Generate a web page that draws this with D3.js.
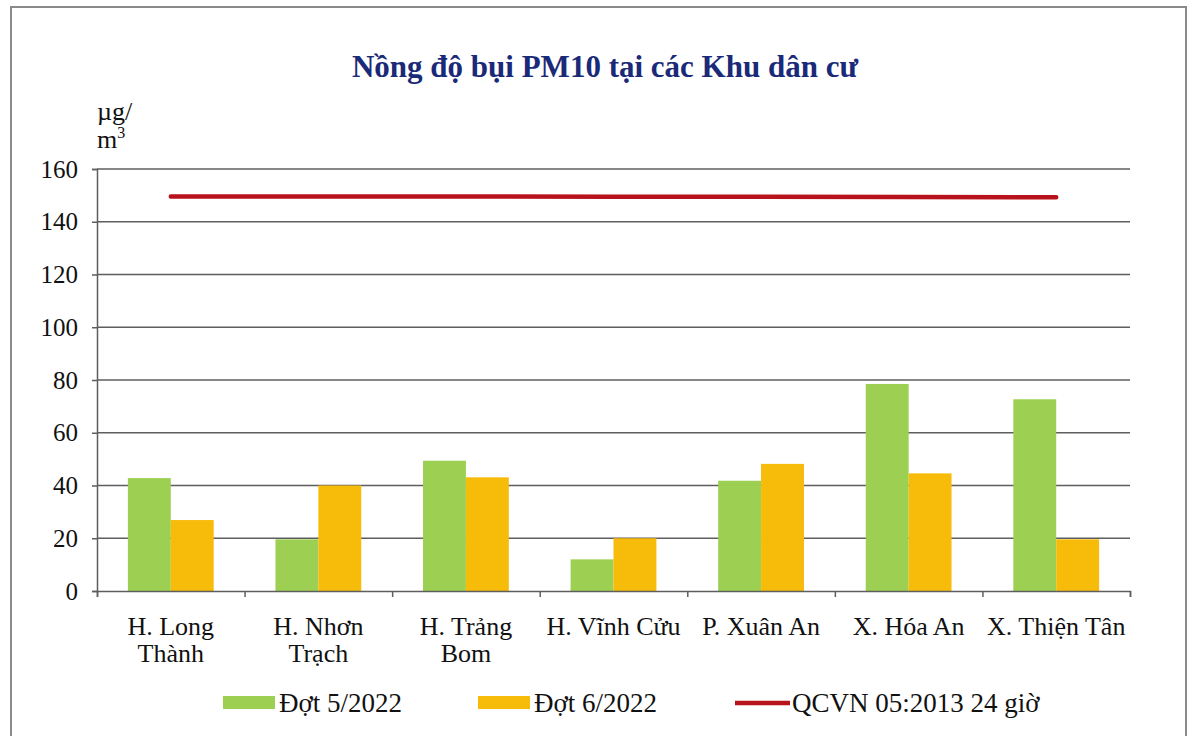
<!DOCTYPE html>
<html>
<head>
<meta charset="utf-8">
<script src="https://cdn.jsdelivr.net/npm/d3@7"></script>
<style>
    body { margin: 0; background: #fff; }
    svg { display: block; font-family: "Liberation Serif", "Times New Roman", serif; }
</style>
</head>
<body>
<div id="plot"></div>
<script>
// Data.
var categories = [
    ["H. Long", "Thành"],
    ["H. Nhơn", "Trạch"],
    ["H. Trảng", "Bom"],
    ["H. Vĩnh Cửu"],
    ["P. Xuân An"],
    ["X. Hóa An"],
    ["X. Thiện Tân"]
];
var dot5 = [42.8, 19.6, 49.4, 12, 41.8, 78.5, 72.7];
var dot6 = [26.9, 40, 43.1, 20, 48.2, 44.6, 19.6];
var qcvn = [149.6, 149.6, 149.6, 149.5, 149.5, 149.4, 149.3];
var series_names = ["Đợt 5/2022", "Đợt 6/2022", "QCVN 05:2013 24 giờ"];
var y_ticks = [0, 20, 40, 60, 80, 100, 120, 140, 160];

var W = 1192, H = 736;
var plot_left = 97, plot_right = 1130, plot_top = 169, plot_bottom = 591;

var svg = d3.select("div#plot")
    .append("svg")
        .attr("width", W)
        .attr("height", H)
        .attr("viewBox", "0 0 " + W + " " + H);

// Outer frame of the chart.
svg.append("rect")
    .attr("x", 11).attr("y", 7)
    .attr("width", 1175).attr("height", 740)
    .attr("fill", "none")
    .attr("stroke", "#8a8a8a")
    .attr("stroke-width", 2);

var x_scale = d3.scaleBand()
    .domain(d3.range(categories.length))
    .range([plot_left, plot_right]);

var x_inner = d3.scaleBand()
    .domain([0, 1])
    .range([0, x_scale.bandwidth()])
    .paddingOuter(0.72)
    .paddingInner(0);

var y_scale = d3.scaleLinear()
    .domain([0, 160])
    .range([plot_bottom, plot_top]);

// Gridlines.
svg.append("g")
    .selectAll("line")
    .data(y_ticks.slice(1))
    .join("line")
        .attr("x1", plot_left).attr("x2", plot_right)
        .attr("y1", function(d) { return y_scale(d); })
        .attr("y2", function(d) { return y_scale(d); })
        .attr("stroke", "#5e5e5e")
        .attr("stroke-width", 1.5);

// Bars.
var colors = ["#9dd052", "#f7bb0a"];
[dot5, dot6].forEach(function(values, s) {
    svg.append("g")
        .selectAll("rect")
        .data(values)
        .join("rect")
            .attr("x", function(d, i) { return x_scale(i) + x_inner(s); })
            .attr("width", x_inner.bandwidth())
            .attr("y", function(d) { return y_scale(d); })
            .attr("height", function(d) { return y_scale(0) - y_scale(d); })
            .attr("fill", colors[s]);
});

// QCVN limit line from first to last category centre.
var line = d3.line()
    .x(function(d, i) { return x_scale(i) + x_scale.bandwidth() / 2; })
    .y(function(d) { return y_scale(d); });

svg.append("path")
    .datum(qcvn)
    .attr("d", line)
    .attr("fill", "none")
    .attr("stroke", "#b8121c")
    .attr("stroke-width", 4.5)
    .attr("stroke-linecap", "round");

// Y axis.
var y_axis = d3.axisLeft(y_scale)
    .tickValues(y_ticks)
    .tickSize(5)
    .tickPadding(14);

svg.append("g")
    .attr("transform", "translate(" + plot_left + ",0)")
    .call(y_axis)
    .call(function(g) {
        g.select(".domain").attr("stroke", "#5e5e5e").attr("stroke-width", 1.5);
        g.selectAll(".tick line").attr("stroke", "#5e5e5e").attr("stroke-width", 1.5);
        g.selectAll(".tick text")
            .attr("fill", "#111")
            .style("font-size", "25px")
            .style("font-family", "Liberation Serif");
    });

// X axis: ticks at category boundaries.
var x_lin = d3.scaleLinear().domain([0, categories.length]).range([plot_left, plot_right]);
var x_axis = d3.axisBottom(x_lin)
    .tickValues(d3.range(categories.length + 1))
    .tickSize(6)
    .tickFormat("");

svg.append("g")
    .attr("transform", "translate(0," + plot_bottom + ")")
    .call(x_axis)
    .call(function(g) {
        g.select(".domain").attr("stroke", "#5e5e5e").attr("stroke-width", 1.5);
        g.selectAll(".tick line").attr("stroke", "#5e5e5e").attr("stroke-width", 1.5);
    });

// Category labels.
svg.append("g")
    .selectAll("text")
    .data(categories)
    .join("text")
        .attr("x", function(d, i) { return x_scale(i) + x_scale.bandwidth() / 2; })
        .attr("y", 635)
        .attr("text-anchor", "middle")
        .style("font-size", "26px")
        .attr("fill", "#111")
        .each(function(d) {
            var t = d3.select(this);
            d.forEach(function(line_text, k) {
                t.append("tspan")
                    .attr("x", t.attr("x"))
                    .attr("dy", k === 0 ? 0 : 27)
                    .text(line_text);
            });
        });

// Title.
svg.append("text")
    .attr("x", 605).attr("y", 77)
    .attr("text-anchor", "middle")
    .attr("fill", "#1a2a78")
    .style("font-size", "31px")
    .style("font-weight", "bold")
    .text("Nồng độ bụi PM10 tại các Khu dân cư");

// Unit label.
var unit = svg.append("text")
    .attr("fill", "#111")
    .style("font-size", "26px");
unit.append("tspan").attr("x", 97).attr("y", 120).text("µg/");
unit.append("tspan").attr("x", 97).attr("y", 148).text("m");
unit.append("tspan").attr("dy", -10).style("font-size", "16px").text("3");

// Legend.
var legend = svg.append("g").attr("transform", "translate(0,712)");
var legend_x = [223, 478, 735];
series_names.forEach(function(name, s) {
    var g = legend.append("g").attr("transform", "translate(" + legend_x[s] + ",0)");
    if (s < 2) {
        g.append("rect")
            .attr("x", 0).attr("y", -16)
            .attr("width", 52).attr("height", 13)
            .attr("fill", colors[s]);
    } else {
        g.append("line")
            .attr("x1", 0).attr("x2", 55)
            .attr("y1", -9).attr("y2", -9)
            .attr("stroke", "#b8121c")
            .attr("stroke-width", 4.5);
    }
    g.append("text")
        .attr("x", s < 2 ? 56 : 57)
        .attr("fill", "#111")
        .style("font-size", "27px")
        .text(name);
});
</script>
</body>
</html>
